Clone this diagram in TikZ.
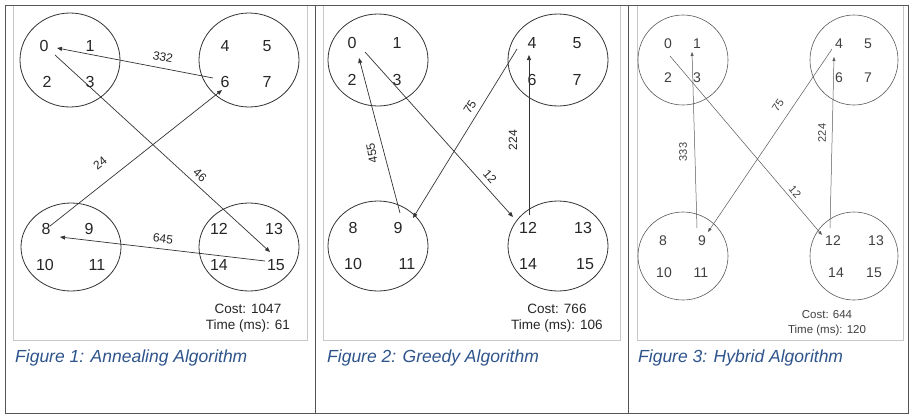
\documentclass[tikz,border=0pt]{standalone}
\usepackage{fontspec}
\setmainfont{Liberation Sans}
\usetikzlibrary{arrows.meta,calc}
\definecolor{capblue}{RGB}{46,84,140}
\definecolor{outerframe}{RGB}{85,85,85}
\definecolor{innerframe}{RGB}{200,200,200}
\begin{document}
\begin{tikzpicture}[x=1pt,y=-1pt,
  dig/.style={font=\fontsize{16}{16}\selectfont, text=black!85, inner sep=0pt},
  digs/.style={font=\fontsize{14}{14}\selectfont, text=black!75, inner sep=0pt},
  elab/.style={font=\fontsize{12}{12}\selectfont, text=black!85, inner sep=0pt},
  elabs/.style={font=\fontsize{11}{11}\selectfont, text=black!75, inner sep=0pt},
  coststyle/.style={font=\fontsize{13.5}{13.5}\selectfont, text=black!85, anchor=base, inner sep=0pt},
  costsmall/.style={font=\fontsize{11.5}{11.5}\selectfont, text=black!75, anchor=base, inner sep=0pt},
  capt/.style={font=\fontsize{17.5}{17.5}\selectfont\itshape, text=capblue, anchor=base west, inner sep=0pt},
  arr/.style={-{Triangle[length=5pt,width=4pt]}, line width=0.7pt, draw=black!80},
  arrs/.style={-{Triangle[length=4pt,width=3pt]}, line width=0.5pt, draw=black!65},
  clus/.style={draw=black!80, line width=0.8pt},
  clusl/.style={draw=black!65, line width=0.6pt},
  oframe/.style={draw=outerframe, line width=0.9pt},
  iframe/.style={draw=innerframe, line width=0.8pt}
]
\useasboundingbox (0,0) rectangle (911,416);
\fill[white] (0,0) rectangle (911,416);

% frames
\draw[iframe] (13,5) rectangle (307,340);
\draw[iframe] (323,5) rectangle (620,340);
\draw[iframe] (637,5) rectangle (903,340);
\draw[oframe] (5,5) rectangle (908,413);
\draw[oframe] (315,5) -- (315,413);
\draw[oframe] (628,5) -- (628,413);

% ---------- Panel 1 ----------
\draw[clus] (70,60) ellipse [x radius=50, y radius=47];
\draw[clus] (249,60) ellipse [x radius=50, y radius=47];
\draw[clus] (71,247) ellipse [x radius=50, y radius=44];
\draw[clus] (249,247) ellipse [x radius=50, y radius=44];
\foreach \n/\x/\y in {0/44/46,1/90/46,2/47/82,3/90/82,4/225/46,5/267/46,6/225/82,7/267/82,
  8/46/229,9/89/229,10/45/265,11/97/265,12/219/229,13/274/229,14/219/265,15/276/265}
  \node[dig] (p1n\n) at (\x,\y) {\n};
\draw[arr] ($(p1n6)+(-12,-4)$) -- ($(p1n0)+(13,2)$);
\draw[arr] ($(p1n8)+(4,-3)$) -- ($(p1n6)+(-3,8)$);
\draw[arr] ($(p1n0)+(11,9)$) -- ($(p1n15)+(-6,-13)$);
\draw[arr] ($(p1n15)+(-11,-4)$) -- ($(p1n8)+(14,8)$);
\node[elab, rotate=-11] (p1l332) at (163,57) {332};
\node[elab, rotate=38] (p1l24) at (100,163) {24};
\node[elab, rotate=-42] (p1l46) at (200,175) {46};
\node[elab, rotate=-7] (p1l645) at (163,239) {645};
\node[coststyle] (p1cost) at (248,313) {Cost: 1047};
\node[coststyle] (p1time) at (248,329) {Time (ms): 61};
\node[capt] (p1cap) at (15,362) {Figure 1: Annealing Algorithm};

% ---------- Panel 2 ----------
\draw[clus] (378,60) ellipse [x radius=50, y radius=46];
\draw[clus] (558,60) ellipse [x radius=50, y radius=46];
\draw[clus] (378,246) ellipse [x radius=50, y radius=45];
\draw[clus] (558,246) ellipse [x radius=50, y radius=45];
\foreach \n/\x/\y in {0/352/43,1/397/43,2/352/80,3/397/80,4/532/43,5/577/43,6/532/80,7/577/80,
  8/353/228,9/398/228,10/353/264,11/407/264,12/528/228,13/583/228,14/528/264,15/585/264}
  \node[dig] (p2n\n) at (\x,\y) {\n};
\draw[arr] ($(p2n9)+(2,-15)$) -- ($(p2n0)+(7,15)$);
\draw[arr] ($(p2n0)+(13,9)$) -- ($(p2n12)+(-15,-11)$);
\draw[arr] ($(p2n4)+(-15,6)$) -- ($(p2n9)+(15,-10)$);
\draw[arr] ($(p2n12)+(1,-13)$) -- ($(p2n4)+(-3,12)$);
\node[elab, rotate=100] (p2l455) at (372,153) {455};
\node[elab, rotate=-48] (p2l12) at (490,177) {12};
\node[elab, rotate=58] (p2l75) at (470,107) {75};
\node[elab, rotate=90] (p2l224) at (513,140) {224};
\node[coststyle] (p2cost) at (557,313) {Cost: 766};
\node[coststyle] (p2time) at (557,329) {Time (ms): 106};
\node[capt] (p2cap) at (327,362) {Figure 2: Greedy Algorithm};

% ---------- Panel 3 ----------
\draw[clusl] (683,60) ellipse [x radius=45, y radius=45];
\draw[clusl] (854,60) ellipse [x radius=44, y radius=45];
\draw[clusl] (683,256) ellipse [x radius=45, y radius=44];
\draw[clusl] (854,256) ellipse [x radius=44, y radius=44];
\foreach \n/\x/\y in {0/668/44,1/697/44,2/668/78,3/697/78,4/839/44,5/868/44,6/839/78,7/868/78,
  8/663/241,9/702/241,10/664/273,11/701/273,12/833/241,13/876/241,14/836/273,15/874/273}
  \node[digs] (p3n\n) at (\x,\y) {\n};
\draw[arrs] ($(p3n9)+(-5,-13)$) -- ($(p3n1)+(-5,8)$);
\draw[arrs] ($(p3n0)+(2,12)$) -- ($(p3n12)+(-11,-6)$);
\draw[arrs] ($(p3n4)+(-7,5)$) -- ($(p3n9)+(6,-9)$);
\draw[arrs] ($(p3n12)+(-3,-13)$) -- ($(p3n4)+(-5,13)$);
\node[elabs, rotate=90] (p3l333) at (683,152) {333};
\node[elabs, rotate=-50] (p3l12) at (795,192) {12};
\node[elabs, rotate=56] (p3l75) at (778,105) {75};
\node[elabs, rotate=90] (p3l224) at (822,133) {224};
\node[costsmall] (p3cost) at (827,318) {Cost: 644};
\node[costsmall] (p3time) at (827,333) {Time (ms): 120};
\node[capt] (p3cap) at (638,362) {Figure 3: Hybrid Algorithm};
\end{tikzpicture}
\end{document}
